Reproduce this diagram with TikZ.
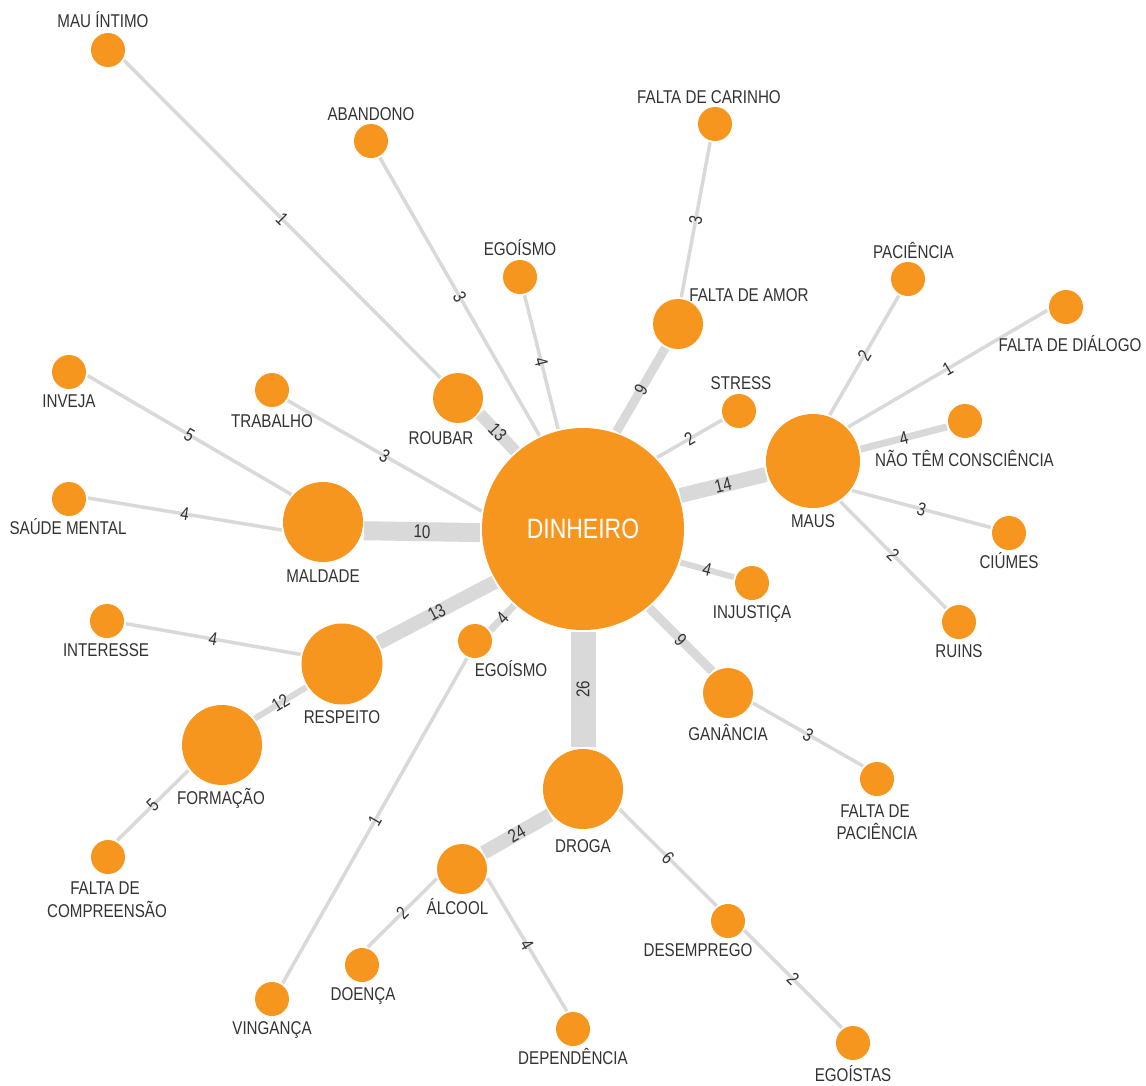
\documentclass[tikz,border=0pt]{standalone}
\usepackage{fontspec}
\setmainfont{Liberation Sans}[FakeStretch=0.82]
\definecolor{orng}{HTML}{F7961F}
\definecolor{edg}{HTML}{D9D9D9}
\definecolor{txt}{HTML}{333333}
\newcommand\lblfnt{\fontsize{18.5}{22}\selectfont}
\newcommand\bigfnt{\fontsize{28}{32}\selectfont}
\tikzset{
  bub/.style={circle, fill=orng, inner sep=0pt, outer sep=2pt, minimum size=#1},
  lab/.style={font=\lblfnt, text=txt, inner sep=0pt, anchor=base},
  conn/.style={draw=edg, line width=#1},
  num/.style={font=\lblfnt, text=txt, inner sep=0pt, sloped, midway},
}
\begin{document}
\begin{tikzpicture}[x=1pt,y=-1pt]
\useasboundingbox[fill=white] (0,0) rectangle (1146,1085);
% nodes
\node[bub=202pt, text=white, font=\bigfnt] (din) at (583,529) {DINHEIRO};
\node[bub=34pt] (mauint) at (108,50) {};
\node[bub=34pt] (aband) at (371,141) {};
\node[bub=34pt] (carinho) at (715,124) {};
\node[bub=34pt] (egoA) at (520,277) {};
\node[bub=50pt] (amor) at (678,324) {};
\node[bub=34pt] (pacie) at (908,279) {};
\node[bub=34pt] (dialogo) at (1066,307) {};
\node[bub=34pt] (stress) at (739,411) {};
\node[bub=94pt] (maus) at (813,461) {};
\node[bub=34pt] (consc) at (965,421) {};
\node[bub=34pt] (ciumes) at (1009,533) {};
\node[bub=34pt] (ruins) at (959,622) {};
\node[bub=50pt] (roubar) at (458,398) {};
\node[bub=34pt] (trab) at (272,390) {};
\node[bub=34pt] (inveja) at (69,372) {};
\node[bub=34pt] (saude) at (69,499) {};
\node[bub=80pt] (maldade) at (323,522) {};
\node[bub=34pt] (interesse) at (107,621) {};
\node[bub=81pt] (respeito) at (342,664) {};
\node[bub=34pt] (egoB) at (475,641) {};
\node[bub=80pt] (formacao) at (222,745) {};
\node[bub=34pt] (compre) at (108,857) {};
\node[bub=34pt] (vinganca) at (272,999) {};
\node[bub=34pt] (doenca) at (362,965) {};
\node[bub=50pt] (alcool) at (462,869) {};
\node[bub=80pt] (droga) at (583,789) {};
\node[bub=34pt] (depend) at (573,1029) {};
\node[bub=34pt] (desemp) at (728,921) {};
\node[bub=34pt] (egoistas) at (853,1043) {};
\node[bub=50pt] (ganancia) at (728,693) {};
\node[bub=34pt] (fpacie) at (877,779) {};
\node[bub=34pt] (injust) at (752,583) {};
% connectors
\draw[conn=3.5pt] (mauint.-33) -- node[num]{1} (roubar.131);
\draw[conn=3.5pt] (aband.-62) -- node[num]{3} (din.115);
\draw[conn=3.5pt] (egoA.-76) -- node[num]{4} (din.104);
\draw[conn=3.5pt] (carinho.-105) -- node[num]{3} (amor.83);
\draw[conn=9pt] (amor.-118) -- node[num]{9} (din.71);
\draw[conn=3.5pt] (stress.-152) -- node[num]{2} (din.44);
\draw[conn=15pt] (maus.-164) -- node[num]{14} (din.19);
\draw[conn=3.5pt] (pacie.-119) -- node[num]{2} (maus.70);
\draw[conn=3.5pt] (dialogo.-170) -- node[num]{1} (maus.44);
\draw[conn=7pt] (consc.-162) -- node[num]{4} (maus.14);
\draw[conn=3.5pt] (maus.-37) -- node[num]{3} (ciumes.163);
\draw[conn=3.5pt] (maus.-56) -- node[num]{2} (ruins.133);
\draw[conn=6pt] (din.-19) -- node[num]{4} (injust.162);
\draw[conn=9pt] (din.-50) -- node[num]{9} (ganancia.126);
\draw[conn=3.5pt] (ganancia.-22) -- node[num]{3} (fpacie.137);
\draw[conn=25pt] (droga.90) -- node[num]{26} (din.-90);
\draw[conn=14pt] (alcool.37) -- node[num]{24} (droga.-142);
\draw[conn=3.5pt] (doenca.72) -- node[num]{2} (alcool.-159);
\draw[conn=3.5pt] (alcool.-20) -- node[num]{4} (depend.109);
\draw[conn=3.5pt] (droga.-29) -- node[num]{6} (desemp.127);
\draw[conn=3.5pt] (desemp.-30) -- node[num]{2} (egoistas.126);
\draw[conn=3.5pt] (vinganca.56) -- node[num]{1} (egoB.-115);
\draw[conn=7pt] (egoB.35) -- node[num]{4} (din.-132);
\draw[conn=14pt] (respeito.30) -- node[num]{13} (din.-149);
\draw[conn=3.5pt] (interesse.-8) -- node[num]{4} (respeito.167);
\draw[conn=6pt] (formacao.39) -- node[num]{12} (respeito.-147);
\draw[conn=3.5pt] (compre.61) -- node[num]{5} (formacao.-143);
\draw[conn=19pt] (maldade.-12) -- node[num]{10} (din.-178.6);
\draw[conn=3.5pt] (inveja.-11) -- node[num]{5} (maldade.139);
\draw[conn=3.5pt] (saude.3) -- node[num]{4} (maldade.-169);
\draw[conn=3.5pt] (trab.-34) -- node[num]{3} (din.170);
\draw[conn=12pt] (roubar.-36) -- node[num]{13} (din.131);
% labels
\node[lab] (lmauint) at (103,27.6) {MAU ÍNTIMO};
\node[lab] (laband) at (371,120.6) {ABANDONO};
\node[lab] (lcarinho) at (709,103.6) {FALTA DE CARINHO};
\node[lab] (legoA) at (520,255.6) {EGOÍSMO};
\node[lab] (lamor) at (749,301.6) {FALTA DE AMOR};
\node[lab] (lpacie) at (913.5,258.6) {PACIÊNCIA};
\node[lab] (ldialogo) at (1070,351.6) {FALTA DE DIÁLOGO};
\node[lab] (lconsc) at (964.5,466.6) {NÃO TÊM CONSCIÊNCIA};
\node[lab] (lmaus) at (813,527.6) {MAUS};
\node[lab] (lciumes) at (1009,568.6) {CIÚMES};
\node[lab] (lruins) at (959,657.6) {RUINS};
\node[lab] (lstress) at (741,389.6) {STRESS};
\node[lab] (lroubar) at (441,444.6) {ROUBAR};
\node[lab] (ltrab) at (272,427.6) {TRABALHO};
\node[lab] (linveja) at (69,407.6) {INVEJA};
\node[lab] (lsaude) at (68,534.6) {SAÚDE MENTAL};
\node[lab] (lmaldade) at (323,582.6) {MALDADE};
\node[lab] (linteresse) at (106,656.6) {INTERESSE};
\node[lab] (lrespeito) at (342,723.6) {RESPEITO};
\node[lab] (legoB) at (511,676.6) {EGOÍSMO};
\node[lab] (lformacao) at (221,804.6) {FORMAÇÃO};
\node[lab] (lcompreA) at (105,894.6) {FALTA DE};
\node[lab] (lcompreB) at (107,917.6) {COMPREENSÃO};
\node[lab] (lvinganca) at (272,1034.6) {VINGANÇA};
\node[lab] (ldoenca) at (363,1000.6) {DOENÇA};
\node[lab] (lalcool) at (457.5,914.6) {ÁLCOOL};
\node[lab] (ldroga) at (583,852.6) {DROGA};
\node[lab] (ldepend) at (573,1064.6) {DEPENDÊNCIA};
\node[lab] (ldesemp) at (698,956.6) {DESEMPREGO};
\node[lab] (legoistas) at (853,1081.6) {EGOÍSTAS};
\node[lab] (lganancia) at (728,740.6) {GANÂNCIA};
\node[lab] (lfpacieA) at (875,817.6) {FALTA DE};
\node[lab] (lfpacieB) at (877,839.6) {PACIÊNCIA};
\node[lab] (linjust) at (752,618.6) {INJUSTIÇA};
\end{tikzpicture}
\end{document}
